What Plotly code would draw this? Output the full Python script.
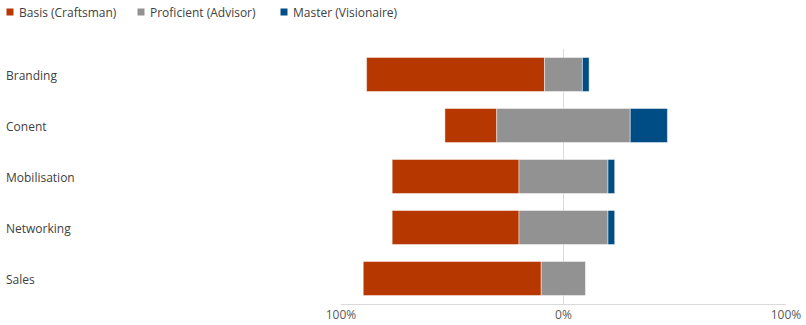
import plotly.graph_objects as go

categories = ["Branding", "Conent", "Mobilisation", "Networking", "Sales"]
basis = [80, 23.3, 57, 57, 80]
proficient = [17, 60, 40, 40, 20]
master = [3, 16.7, 3, 3, 0]
series_names = ["Basis (Craftsman)", "Proficient (Advisor)", "Master (Visionaire)"]
series_colors = ["#B73700", "#929292", "#004C84"]
tick_vals = [-100, 0, 100]
tick_text = ["100%", "0%", "100%"]

basis_base = [-(p / 2 + b) for b, p in zip(basis, proficient)]
prof_base = [-p / 2 for p in proficient]
master_base = [p / 2 for p in proficient]

fig = go.Figure()
line = dict(color="rgba(255,255,255,0.45)", width=1)
for vals, base, name, col in zip([basis, proficient, master],
                                 [basis_base, prof_base, master_base],
                                 series_names, series_colors):
    fig.add_trace(go.Bar(y=categories, x=vals, base=base, orientation="h",
                         name=name, marker=dict(color=col, line=line),
                         showlegend=False))

L, R, T, B = 341, 20, 49, 21
W, H = 806, 325
pw = W - L - R
ph = H - T - B

def px_x(p):
    return (p - L) / pw

def px_y(p):
    return 1 - (p - T) / ph

for c in categories:
    fig.add_annotation(x=px_x(4), xref="paper", y=c, yref="y", text=c,
                       showarrow=False, xanchor="left", yanchor="middle",
                       yshift=-1, font=dict(size=12, color="#404040"))

# manual legend
legend_x = [6.5, 137.5, 280.5]
for lx, name, col in zip(legend_x, series_names, series_colors):
    fig.add_shape(type="rect", xref="paper", yref="paper",
                  x0=px_x(lx), x1=px_x(lx + 7), y0=px_y(8.5), y1=px_y(15.5),
                  fillcolor=col, line=dict(width=0))
    fig.add_annotation(x=px_x(lx + 10.5), xref="paper", y=px_y(12), yref="paper",
                       text=name, showarrow=False, xanchor="left", yanchor="middle",
                       font=dict(size=12, color="#404040"))

fig.update_layout(
    width=W, height=H,
    margin=dict(l=L, r=R, t=T, b=B, autoexpand=False),
    barmode="overlay", bargap=0.333,
    plot_bgcolor="white", paper_bgcolor="white",
    font=dict(family="Open Sans", size=12, color="#595959"),
    showlegend=False,
    xaxis=dict(range=[-100, 100], tickvals=tick_vals, ticktext=tick_text,
               showgrid=True, gridcolor="#D9D9D9", gridwidth=1,
               zeroline=True, zerolinecolor="#D9D9D9", zerolinewidth=1,
               showline=True, linecolor="#D9D9D9", linewidth=1,
               tickfont=dict(size=12, color="#595959"), fixedrange=True),
    yaxis=dict(autorange="reversed", showticklabels=False, showgrid=False,
               zeroline=False, showline=False),
)

fig.write_html("out.html")
